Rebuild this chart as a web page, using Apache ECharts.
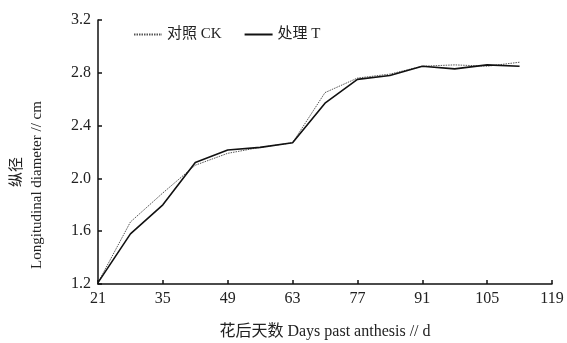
<!DOCTYPE html>
<html>
<head>
<meta charset="utf-8">
<script src="https://cdn.jsdelivr.net/npm/echarts@6/dist/echarts.min.js"></script>
<style>html,body{margin:0;padding:0;background:#fff}#c{width:567px;height:343px}</style>
</head>
<body>
<div id="c"></div>
<script>
const days = ['21','28','35','42','49','56','63','70','77','84','91','98','105','112','119'];
const ckValues = [1.21, 1.67, 1.89, 2.10, 2.19, 2.235, 2.27, 2.65, 2.76, 2.79, 2.85, 2.86, 2.85, 2.88];
const tValues  = [1.21, 1.58, 1.80, 2.12, 2.215, 2.235, 2.27, 2.57, 2.75, 2.78, 2.85, 2.83, 2.86, 2.85];
const yTicks = { min: 1.2, max: 3.2, step: 0.4 };
const seriesNames = ['对照 CK', '处理 T'];
const xName = '花后天数 Days past anthesis // d';
const yName1 = '纵径';
const yName2 = 'Longitudinal diameter // cm';

const FONT = '"Liberation Serif", "Noto Sans CJK SC", serif';
const chart = echarts.init(document.getElementById('c'), null, {renderer: 'canvas'});
chart.setOption({
  animation: false,
  backgroundColor: '#fff',
  grid: { left: 98, right: 15, top: 20, bottom: 59, containLabel: false, outerBoundsMode: 'none' },
  legend: {
    left: 128, top: 22,
    itemWidth: 28, itemHeight: 10, itemGap: 22,
    itemStyle: { opacity: 0 },
    textStyle: { fontFamily: FONT, fontSize: 15, color: '#222' },
    data: seriesNames
  },
  xAxis: {
    type: 'category', data: days, boundaryGap: false,
    name: xName, nameLocation: 'middle', nameGap: 40,
    nameTextStyle: { fontFamily: FONT, fontSize: 16, color: '#222' },
    axisLine: { lineStyle: { color: '#111', width: 1.5 } },
    axisTick: { inside: true, length: 4, interval: 1, lineStyle: { color: '#111', width: 1.5 } },
    axisLabel: { interval: 1, fontFamily: FONT, fontSize: 16, color: '#222', margin: 7 },
    splitLine: { show: false }
  },
  yAxis: {
    type: 'value', min: yTicks.min, max: yTicks.max, interval: yTicks.step,
    axisLine: { show: true, lineStyle: { color: '#111', width: 1.5 } },
    axisTick: { show: true, inside: true, length: 4, lineStyle: { color: '#111', width: 1.5 } },
    axisLabel: { fontFamily: FONT, fontSize: 16, color: '#222', margin: 7,
      formatter: v => v.toFixed(1) },
    splitLine: { show: false }
  },
  graphic: [
    { type: 'text', x: 15, y: 172, rotation: Math.PI/2, style: { text: yName1, font: '15px "Noto Sans CJK SC"', fill: '#222', align: 'center', verticalAlign: 'middle' } },
    { type: 'text', x: 37, y: 185, rotation: Math.PI/2, style: { text: yName2, font: '15px "Liberation Serif"', fill: '#222', align: 'center', verticalAlign: 'middle' } }
  ],
  series: [
    { name: seriesNames[0], type: 'line', data: ckValues, showSymbol: false, symbol: 'none',
      lineStyle: { color: '#555', width: 1, type: [1.5, 1] }, itemStyle: { color: '#555' } },
    { name: seriesNames[1], type: 'line', data: tValues, showSymbol: false, symbol: 'none',
      lineStyle: { color: '#111', width: 1.6 }, itemStyle: { color: '#111' } }
  ]
});
</script>
</body>
</html>
